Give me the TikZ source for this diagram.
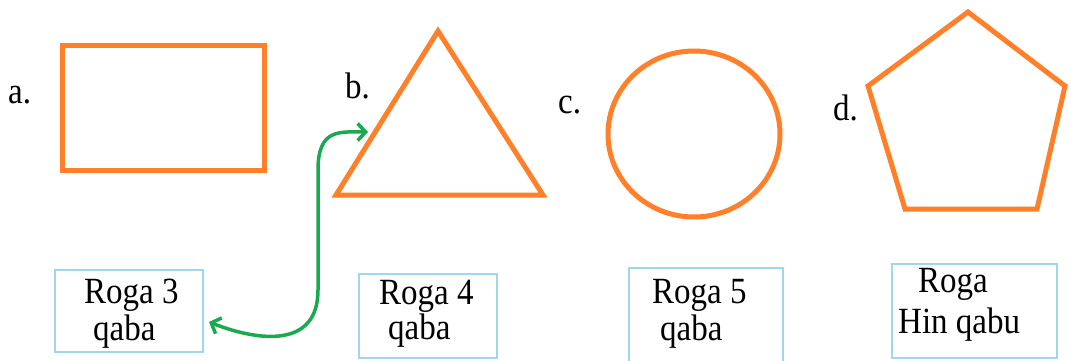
\documentclass[tikz,border=0pt]{standalone}
\usepackage{fontspec}
\setmainfont{Liberation Serif}
\usetikzlibrary{arrows.meta}
\definecolor{shapeor}{RGB}{255,128,40}
\definecolor{boxblue}{RGB}{160,215,235}
\definecolor{arrgreen}{RGB}{25,170,80}
\newcommand{\tallt}[1]{\scalebox{1}[1.12]{#1}}
\tikzset{
  shapeline/.style={draw=shapeor, line width=5pt, line join=miter},
  namebox/.style={draw=boxblue, line width=1.5pt},
  txt/.style={inner sep=0pt, anchor=base west, font=\fontsize{33}{36}\selectfont},
  link/.style={draw=arrgreen, line width=3.5pt, {Straight Barb[length=8pt,width=17pt]}-{Straight Barb[length=8pt,width=17pt]}}
}
\begin{document}
\begin{tikzpicture}[x=1pt,y=-1pt]
\useasboundingbox (0,0) rectangle (1071,361);
% labels
\node[txt] (la) at (8,103) {\tallt{a.}};
\node[txt] (lb) at (345,99) {\tallt{b.}};
\node[txt] (lc) at (558,113) {\tallt{c.}};
\node[txt] (ld) at (833,120) {\tallt{d.}};
% shapes
\draw[shapeline] (62,46) rectangle (264,170);
\draw[shapeline] (438,31) -- (543,195) -- (336,195) -- cycle;
\draw[shapeline] (694,134) ellipse [x radius=86, y radius=83];
\draw[shapeline] (968,12) -- (1065,86) -- (1037,209) -- (905,209) -- (868,86) -- cycle;
% boxes
\draw[namebox] (55,270) rectangle (203,352);
\draw[namebox] (359,274) rectangle (497,358);
\draw[namebox] (629,268) rectangle (783,364);
\draw[namebox] (892,264) rectangle (1057,358);
% box texts
\node[txt] (t1a) at (84,303) {\tallt{Roga 3}};
\node[txt] (t1b) at (93,340) {\tallt{qaba}};
\node[txt] (t2a) at (379,304) {\tallt{Roga 4}};
\node[txt] (t2b) at (388,339) {\tallt{qaba}};
\node[txt] (t3a) at (652,303) {\tallt{Roga 5}};
\node[txt] (t3b) at (660,340) {\tallt{qaba}};
\node[txt] (t4a) at (918,292) {\tallt{Roga}};
\node[txt] (t4b) at (898,333) {\tallt{Hin qabu}};
% connector
\coordinate (pb) at (209,322);
\coordinate (pt) at (368,132);
\draw[link] (pb) .. controls (260,342) and (318,348) .. (318,290) -- (318,170) .. controls (318,128) and (340,132) .. (pt);
\end{tikzpicture}
\end{document}
